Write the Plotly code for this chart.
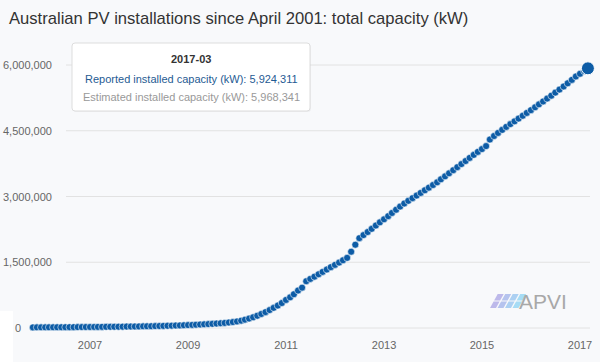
import plotly.graph_objects as go
import pandas as pd
import datetime as dt

# ---------------- data ----------------
start_month = "2005-11"
reported_kw = [
    14000, 14500,
    15000, 15600, 16100, 16700, 17300, 17900, 18500, 19100, 19800, 20500, 21200, 22000,
    22800, 23700, 24600, 25500, 26500, 27500, 28600, 29700, 30900, 32100, 33400, 34800,
    36300, 37900, 39600, 41400, 43400, 45600, 48000, 50600, 53400, 56400, 59600, 63000,
    66700, 70600, 74800, 79300, 84100, 89300, 95000, 101000, 108000, 116000, 125000, 136000,
    150000, 168000, 190000, 215000, 245000, 280000, 320000, 362000, 410000, 460000, 512000, 570000,
    640000, 700000, 770000, 855000, 920000, 1068000, 1120000, 1172000, 1226000, 1280000, 1334000, 1388000,
    1440000, 1492000, 1545000, 1600000, 1740000, 1900000, 2050000, 2120000, 2190000, 2262000, 2338000, 2410000,
    2480000, 2552000, 2624000, 2698000, 2770000, 2840000, 2902000, 2962000, 3022000, 3082000, 3142000, 3202000,
    3262000, 3324000, 3392000, 3460000, 3530000, 3600000, 3670000, 3740000, 3810000, 3880000, 3950000, 4018000,
    4082000, 4150000, 4300000, 4380000, 4450000, 4520000, 4588000, 4652000, 4714000, 4778000, 4842000, 4906000,
    4970000, 5036000, 5102000, 5168000, 5234000, 5300000, 5370000, 5440000, 5510000, 5582000, 5660000, 5738000,
    5800000, 5862000, 5924311,
]
estimated_last_kw = 5968341
months = pd.date_range(start=start_month, periods=len(reported_kw), freq="MS")

y_tick_values = [0, 1500000, 3000000, 4500000, 6000000]
y_tick_labels = ["0", "1,500,000", "3,000,000", "4,500,000", "6,000,000"]
x_tick_years = [2007, 2009, 2011, 2013, 2015, 2017]

title_text = "Australian PV installations since April 2001: total capacity (kW)"

# ---------------- layout geometry ----------------
W, H = 600, 362
L, R, T, B = 24, 4, 55, 25
PW, PH = W - L - R, H - T - B
FONT = "Liberation Sans, Arial, sans-serif"

def xp(px):
    return (px - L) / PW

def yp(py):
    return (H - B - py) / PH

# axis scaling (pixel calibrated)
px_per_day = 490 / (dt.date(2017, 1, 1) - dt.date(2007, 1, 1)).days
x0 = dt.datetime(2007, 1, 1) + dt.timedelta(days=(L - 90) / px_per_day)
x1 = dt.datetime(2017, 1, 1) + dt.timedelta(days=(W - R - 580) / px_per_day)
k = 263 / 6000000  # px per kW
ymin = -(H - B - 328) / k
ymax = ymin + PH / k

BLUE = "#0d5ca6"
BG = "#f8f9fb"

fig = go.Figure()
fig.add_trace(go.Scatter(
    x=months, y=reported_kw, mode="markers", cliponaxis=False,
    marker=dict(size=7, color=BLUE, line=dict(color="rgba(255,255,255,0.7)", width=0.8)),
    hoverinfo="skip", showlegend=False,
))
fig.add_trace(go.Scatter(
    x=[months[-1]], y=[reported_kw[-1]], mode="markers", cliponaxis=False,
    marker=dict(size=13, color=BLUE, line=dict(color="white", width=1)),
    hoverinfo="skip", showlegend=False,
))

shapes = []
annotations = []

# white patch at bottom-left corner
shapes.append(dict(type="rect", xref="paper", yref="paper", x0=xp(0), x1=xp(13), y0=yp(362), y1=yp(311),
                   fillcolor="white", line=dict(width=0), layer="below"))

# horizontal grid lines
for v in y_tick_values:
    shapes.append(dict(type="line", xref="paper", yref="y", x0=xp(66), x1=xp(590), y0=v, y1=v,
                       line=dict(color="#e2e2e2", width=1), layer="below"))

# y tick labels
for v, lab in zip(y_tick_values, y_tick_labels):
    if v == 0:
        annotations.append(dict(xref="paper", yref="y", x=xp(18), y=v, text=lab, showarrow=False,
                                xanchor="center", yanchor="middle",
                                font=dict(family=FONT, size=11, color="#666666")))
    else:
        annotations.append(dict(xref="paper", yref="y", x=xp(54), y=v, text=lab, showarrow=False,
                                xanchor="right", yanchor="middle",
                                font=dict(family=FONT, size=11, color="#666666")))

# title
annotations.append(dict(xref="paper", yref="paper", x=xp(7), y=yp(18), text=title_text, showarrow=False,
                        xanchor="left", yanchor="middle",
                        font=dict(family=FONT, size=16.6, color="#333333")))

# tooltip box (rounded rect)
bx0, bx1, by0, by1, rr = 72, 310, 43, 111, 3
def P(x, y):
    return f"{xp(x)},{yp(y)}"

def rrect(ax0, ay0, ax1, ay1, r):
    return (f"M {P(ax0+r, ay0)} L {P(ax1-r, ay0)} Q {P(ax1, ay0)} {P(ax1, ay0+r)} "
            f"L {P(ax1, ay1-r)} Q {P(ax1, ay1)} {P(ax1-r, ay1)} "
            f"L {P(ax0+r, ay1)} Q {P(ax0, ay1)} {P(ax0, ay1-r)} "
            f"L {P(ax0, ay0+r)} Q {P(ax0, ay0)} {P(ax0+r, ay0)} Z")

shapes.append(dict(type="path", xref="paper", yref="paper", path=rrect(bx0 + 1, by0 + 1, bx1 + 1, by1 + 1, rr),
                   fillcolor="rgba(0,0,0,0.04)", line=dict(width=0), layer="above"))
shapes.append(dict(type="path", xref="paper", yref="paper", path=rrect(bx0, by0, bx1, by1, rr),
                   fillcolor="white", line=dict(color="#dddddd", width=1), layer="above"))

cx = (bx0 + bx1) / 2
annotations.append(dict(xref="paper", yref="paper", x=xp(cx), y=yp(59),
                        text="<b>" + months[-1].strftime("%Y-%m") + "</b>", showarrow=False,
                        xanchor="center", yanchor="middle",
                        font=dict(family=FONT, size=11, color="#333333")))
annotations.append(dict(xref="paper", yref="paper", x=xp(cx), y=yp(79),
                        text=f"Reported installed capacity (kW): {reported_kw[-1]:,}", showarrow=False,
                        xanchor="center", yanchor="middle",
                        font=dict(family=FONT, size=11, color="#1f5b93")))
annotations.append(dict(xref="paper", yref="paper", x=xp(cx), y=yp(97),
                        text=f"Estimated installed capacity (kW): {estimated_last_kw:,}", showarrow=False,
                        xanchor="center", yanchor="middle",
                        font=dict(family=FONT, size=11, color="#999999")))

# APVI logo
cols = ["#bdb9ea", "#b5c3ee", "#acd0f2", "#a6dcf5"]
for i, c in enumerate(cols):
    xa = 490 + i * 7.5
    for (ya, yb) in [(294, 300.5), (301.5, 308)]:
        sl = 0.55
        pts = [(xa + (308 - ya) * sl, ya), (xa + 6 + (308 - ya) * sl, ya),
               (xa + 6 + (308 - yb) * sl, yb), (xa + (308 - yb) * sl, yb)]
        pth = "M " + " L ".join(P(px_, py_) for px_, py_ in pts) + " Z"
        shapes.append(dict(type="path", xref="paper", yref="paper", path=pth,
                           fillcolor=c, line=dict(width=0), layer="below"))
annotations.append(dict(xref="paper", yref="paper", x=xp(517), y=yp(301), text="APVI", showarrow=False,
                        xanchor="left", yanchor="middle",
                        font=dict(family=FONT, size=21, color="#a8a8a8")))

fig.update_layout(
    width=W, height=H, margin=dict(l=L, r=R, t=T, b=B, autoexpand=False),
    paper_bgcolor=BG, plot_bgcolor=BG,
    shapes=shapes, annotations=annotations,
    xaxis=dict(range=[x0, x1], showgrid=False, zeroline=False, showline=False,
               tickvals=[dt.datetime(y, 1, 1) for y in x_tick_years],
               ticktext=[str(y) for y in x_tick_years], ticks="",
               tickfont=dict(family=FONT, size=11, color="#666666")),
    yaxis=dict(range=[ymin, ymax], showticklabels=False, showgrid=False,
               zeroline=False, showline=False),
    hovermode=False,
)
fig.write_html("out.html", config={"displayModeBar": False},
               post_script="document.body.style.margin='0px';")
